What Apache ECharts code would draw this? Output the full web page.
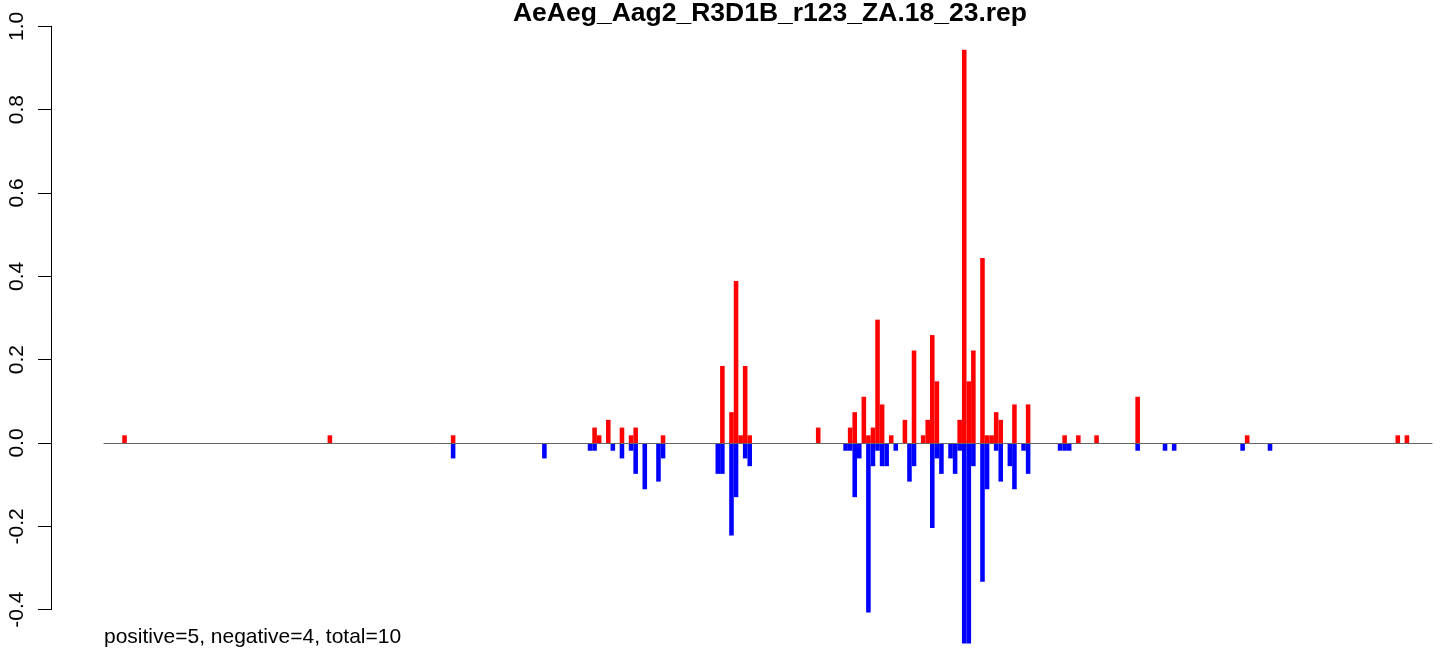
<!DOCTYPE html>
<html>
<head>
<meta charset="utf-8">
<script src="https://cdn.jsdelivr.net/npm/echarts@6/dist/echarts.min.js"></script>
<style>
  html, body { margin: 0; padding: 0; background: #fff; }
  #chart { width: 1444px; height: 660px; }
</style>
</head>
<body>
<div id="chart"></div>
<script>
// ---- data ----
const chartTitle = "AeAeg_Aag2_R3D1B_r123_ZA.18_23.rep";
const footnote = "positive=5, negative=4, total=10";
const slotCount = 291;
const yTicks = [-0.4, -0.2, 0.0, 0.2, 0.4, 0.6, 0.8, 1.0];

const posSlots  = [4, 49, 76, 107, 108, 110, 113, 115, 116, 122, 135, 137, 138, 139, 140, 141, 156, 163, 164, 166, 167, 168, 169, 170, 172, 175, 177, 179, 180, 181, 182, 187, 188, 189, 190, 192, 193, 194, 195, 196, 199, 202, 210, 213, 217, 226, 250, 283, 285];
const posValues = [0.0185, 0.0185, 0.0185, 0.037, 0.0185, 0.0556, 0.037, 0.0185, 0.037, 0.0185, 0.185, 0.074, 0.389, 0.0185, 0.185, 0.0185, 0.037, 0.037, 0.074, 0.111, 0.0185, 0.037, 0.296, 0.0926, 0.0185, 0.0556, 0.222, 0.0185, 0.0556, 0.259, 0.148, 0.0556, 0.944, 0.148, 0.222, 0.444, 0.0185, 0.0185, 0.074, 0.0556, 0.0926, 0.0926, 0.0185, 0.0185, 0.0185, 0.111, 0.0185, 0.0185, 0.0185];

const negSlots  = [76, 96, 106, 107, 111, 113, 115, 116, 118, 121, 122, 134, 135, 137, 138, 140, 141, 162, 163, 164, 165, 167, 168, 169, 170, 171, 173, 176, 177, 181, 182, 183, 185, 186, 187, 188, 189, 190, 192, 193, 195, 196, 198, 199, 201, 202, 209, 210, 211, 226, 232, 234, 249, 255];
const negValues = [-0.037, -0.037, -0.0185, -0.0185, -0.0185, -0.037, -0.0185, -0.074, -0.111, -0.0926, -0.037, -0.074, -0.074, -0.222, -0.130, -0.037, -0.0556, -0.0185, -0.0185, -0.130, -0.037, -0.407, -0.0556, -0.0185, -0.0556, -0.0556, -0.0185, -0.0926, -0.0556, -0.204, -0.037, -0.074, -0.037, -0.074, -0.0185, -0.481, -0.481, -0.0556, -0.333, -0.111, -0.0185, -0.0926, -0.0556, -0.111, -0.0185, -0.074, -0.0185, -0.0185, -0.0185, -0.0185, -0.0185, -0.0185, -0.0185, -0.0185];

// ---- build ----
const categories = [];
for (let i = 0; i < slotCount; i++) categories.push(String(i));
function fill(slots, values) {
  const arr = new Array(slotCount).fill('-');
  slots.forEach((s, k) => { arr[s] = values[k]; });
  return arr;
}
const posData = fill(posSlots, posValues);
const negData = fill(negSlots, negValues);

const FONT = '"Liberation Sans", Arial, Helvetica, sans-serif';
const chart = echarts.init(document.getElementById('chart'), null, { renderer: 'canvas' });
chart.setOption({
  animation: false,
  backgroundColor: '#ffffff',
  grid: { left: 104, width: 1328, top: 26.3, height: 583.4, containLabel: false },
  xAxis: {
    type: 'category',
    data: categories,
    boundaryGap: true,
    z: 5,
    axisLine: { show: true, onZero: true, lineStyle: { color: '#666666', width: 1 } },
    axisTick: { show: false },
    axisLabel: { show: false },
    splitLine: { show: false }
  },
  yAxis: {
    type: 'value',
    min: yTicks[0],
    max: yTicks[yTicks.length - 1],
    interval: 0.2,
    offset: 53,
    axisLine: { show: true, lineStyle: { color: '#000000', width: 1 } },
    axisTick: { show: true, length: 13, lineStyle: { color: '#000000', width: 1 } },
    splitLine: { show: false },
    axisLabel: {
      rotate: 90,
      margin: 23,
      fontSize: 21,
      color: '#000000',
      fontFamily: FONT,
      formatter: v => Number(v).toFixed(1)
    }
  },
  series: [
    {
      type: 'bar', name: 'positive', data: posData,
      barWidth: '100%', barGap: '-100%', clip: false,
      itemStyle: { color: '#ff0000' }
    },
    {
      type: 'bar', name: 'negative', data: negData,
      barWidth: '100%', barGap: '-100%', clip: false,
      itemStyle: { color: '#0000ff' }
    }
  ],
  graphic: [
    {
      type: 'text', x: 770, y: 14,
      style: { text: chartTitle, fontSize: 26.5, fontWeight: 'bold', fontFamily: FONT, fill: '#000', align: 'center', verticalAlign: 'middle' }
    },
    {
      type: 'text', x: 104, y: 637,
      style: { text: footnote, fontSize: 21, fontFamily: FONT, fill: '#000', align: 'left', verticalAlign: 'middle' }
    }
  ]
});
</script>
</body>
</html>
